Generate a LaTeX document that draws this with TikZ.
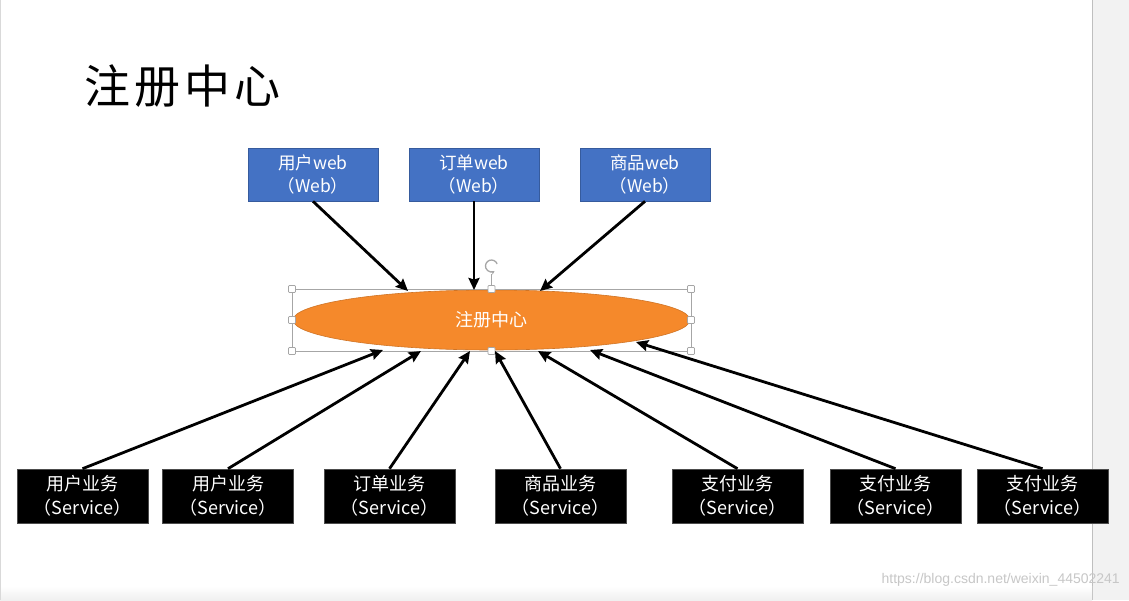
\documentclass[tikz,border=0pt]{standalone}
\usepackage{fontspec}
\setmainfont{Noto Sans CJK SC}
\usetikzlibrary{shapes.geometric,arrows.meta}
\definecolor{webblue}{HTML}{4472C4}
\definecolor{regorange}{HTML}{F5892B}
\definecolor{selgray}{HTML}{A6A6A6}
\definecolor{sidegray}{HTML}{F2F2F2}
\tikzset{
  webbox/.style={draw=webblue!80!black, line width=0.6pt, fill=webblue, text=white, minimum width=130pt, minimum height=53pt, inner sep=0pt, font=\fontsize{17.5}{23}\selectfont, align=center},
  svcbox/.style={draw=black!70, line width=0.6pt, fill=black, text=white, minimum width=131pt, minimum height=54pt, inner sep=0pt, font=\fontsize{18}{24}\selectfont, align=center},
  conn/.style={line width=2.8pt, -{Stealth[length=12pt,width=11pt,inset=1.5pt]}},
  handle/.style={draw=selgray, fill=white, line width=0.7pt, minimum size=7pt, inner sep=0pt, rounded corners=0.8pt},
}
\begin{document}
\begin{tikzpicture}[x=1pt,y=-1pt]
\useasboundingbox (0,0) rectangle (1129,600);
% page background
\fill[white] (0,0) rectangle (1129,600);
\fill[sidegray] (1092,0) rectangle (1129,600);
\draw[black!25, line width=0.8pt] (1092,0) -- (1092,600);
\fill[top color=white, bottom color=black!6] (0,586) rectangle (1092,600);
\draw[black!15, line width=0.6pt] (0.5,0) -- (0.5,600);
% title
\node[anchor=west, inner sep=0pt, font=\fontsize{46}{52}\selectfont] (title) at (84,86) {注\hskip4pt 册\hskip4pt 中\hskip4pt 心};
% registry ellipse
\node[ellipse, fill=regorange, draw=regorange!85!black, line width=0.6pt, minimum width=397pt, minimum height=60pt, inner sep=0pt, text=white, font=\fontsize{18}{22}\selectfont] (reg) at (491.5,320) {注册中心};
% selection frame
\draw[selgray, line width=0.7pt] (292,289) rectangle (691,351);
\draw[selgray, line width=0.7pt] (491.5,289) -- (491.5,274);
\node[handle] (h1) at (292,289) {};
\node[handle] (h2) at (491.5,289) {};
\node[handle] (h3) at (691,289) {};
\node[handle] (h4) at (292,320) {};
\node[handle] (h5) at (691,320) {};
\node[handle] (h6) at (292,351) {};
\node[handle] (h7) at (491.5,351) {};
\node[handle] (h8) at (691,351) {};
\coordinate (rot) at (491.5,266);
\draw[selgray, line width=1.3pt, -{Stealth[length=3.5pt,width=4pt]}] (rot) ++(-20:6) arc[start angle=-20, end angle=-300, radius=6];
% web boxes
\node[webbox] (w1) at (313,174.5) {用户web\\（Web）};
\node[webbox] (w2) at (474,174.5) {订单web\\（Web）};
\node[webbox] (w3) at (645,174.5) {商品web\\（Web）};
% service boxes
\node[svcbox] (s1) at (82.5,496) {用户业务\\（Service）};
\node[svcbox] (s2) at (228,496) {用户业务\\（Service）};
\node[svcbox] (s3) at (389.5,496) {订单业务\\（Service）};
\node[svcbox] (s4) at (560.5,496) {商品业务\\（Service）};
\node[svcbox] (s5) at (737.5,496) {支付业务\\（Service）};
\node[svcbox] (s6) at (895.5,496) {支付业务\\（Service）};
\node[svcbox] (s7) at (1042.5,496) {支付业务\\（Service）};
% arrow targets on the ellipse
\coordinate (tw1) at (408,291);
\coordinate (tw2) at (474,290);
\coordinate (tw3) at (540,291);
\coordinate (ts1) at (383,350);
\coordinate (ts2) at (421,351);
\coordinate (ts3) at (470,351);
\coordinate (ts4) at (495,351);
\coordinate (ts5) at (538,351);
\coordinate (ts6) at (590,350);
\coordinate (ts7) at (636,342);
% connectors
\draw[conn] (w1.south) -- (tw1);
\draw[conn] (w2.south) -- (tw2);
\draw[conn] (w3.south) -- (tw3);
\draw[conn] (s1.north) -- (ts1);
\draw[conn] (s2.north) -- (ts2);
\draw[conn] (s3.north) -- (ts3);
\draw[conn] (s4.north) -- (ts4);
\draw[conn] (s5.north) -- (ts5);
\draw[conn] (s6.north) -- (ts6);
\draw[conn] (s7.north) -- (ts7);
% watermark
\node[anchor=east, inner sep=0pt, text=black!22, font=\fontspec{Liberation Sans}\fontsize{14}{16}\selectfont] (wm) at (1120,580) {https://blog.csdn.net/weixin\_44502241};
\end{tikzpicture}
\end{document}
